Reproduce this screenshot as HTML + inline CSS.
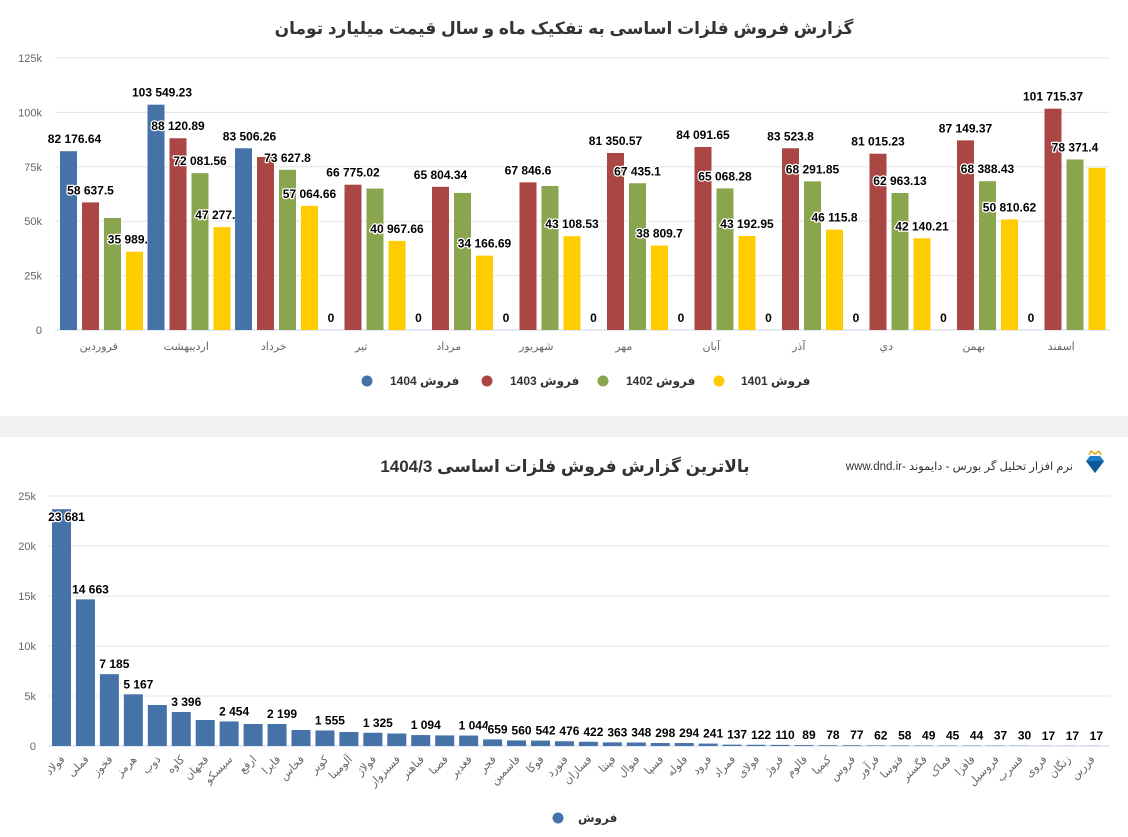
<!DOCTYPE html>
<html><head><meta charset="utf-8">
<style>
body{margin:0;width:1128px;height:837px;background:#f2f2f2;font-family:"Liberation Sans","DejaVu Sans",sans-serif;overflow:hidden}
svg{position:absolute;left:0;top:0}
text{font-family:"Liberation Sans","DejaVu Sans",sans-serif}
.lbl{font-weight:bold;font-size:12px;fill:#000;paint-order:stroke;stroke:#fff;stroke-width:2.5px;stroke-linejoin:round}
.ax{font-size:11px;fill:#666}
</style></head>
<body>
<svg id="s" width="1128" height="837" xmlns="http://www.w3.org/2000/svg">
<rect x="0" y="0" width="1128" height="416" fill="#fff"/>
<rect x="0" y="437" width="1128" height="400" fill="#fff"/>
<text x="564" y="34" text-anchor="middle" font-size="17" font-weight="bold" fill="#333" direction="rtl">گزارش فروش فلزات اساسی به تفکیک ماه و سال قیمت میلیارد تومان</text>
<text x="565" y="472" text-anchor="middle" font-size="17" font-weight="bold" fill="#333" direction="rtl">بالاترین گزارش فروش فلزات اساسی 1404/3</text>
<text x="1073" y="470" text-anchor="start" direction="rtl" font-size="11.5" fill="#333">نرم افزار تحلیل گر بورس - دایموند -www.dnd.ir</text>
<g>
<polygon points="1086,461 1090,456 1100,456 1104,461 1095,473" fill="#1e7fc8"/>
<polygon points="1086,461 1104,461 1095,473" fill="#0d5a9a"/>
<polyline points="1089,455 1091,451 1095,454 1099,451 1101,455" fill="none" stroke="#e0a820" stroke-width="1.5"/>
</g>
<g id="topG"></g>
<g id="botG"></g>
</svg>
<script>
const months=["فروردین","اردیبهشت","خرداد","تیر","مرداد","شهریور","مهر","آبان","آذر","دي","بهمن","اسفند"];
const seriesYears=["1404","1403","1402","1401"];
const s1404=[82176.64,103549.23,83506.26,0,0,0,0,0,0,0,0,0];
const s1403=[58637.5,88120.89,79500,66775.02,65804.34,67846.6,81350.57,84091.65,83523.8,81015.23,87149.37,101715.37];
const s1402=[51500,72081.56,73627.8,65000,63000,66200,67435.1,65068.28,68291.85,62963.13,68388.43,78371.4];
const s1401=[35989.05,47277.15,57064.66,40967.66,34166.69,43108.53,38809.7,43192.95,46115.8,42140.21,50810.62,74500];
const showLbl1402=[false,true,true,false,false,false,true,true,true,true,true,true];
const showLbl1401=[true,true,true,true,true,true,true,true,true,true,true,false];
const showLbl1403=[true,true,false,true,true,true,true,true,true,true,true,true];
const topTicks=[0,25000,50000,75000,100000,125000];
const topTickLabels=["0","25k","50k","75k","100k","125k"];

const symbols=["فولاد","فملی","فخوز","هرمز","ذوب","کاوه","فجهان","سیسکو","ارفع","فایرا","فخاس","کویر","آلومینا","فولاژ","فسبزوار","فباهنر","فصبا","فغدیر","فجر","فاسمین","فوکا","فنورد","فسازان","فپنتا","فنوال","فسپا","فلوله","فرود","فمراد","فولای","فروژ","فالوم","کیمیا","فروس","فرآور","فتوسا","فگستر","فماک","فافزا","فروسیل","فسرب","فروی","زنگان","فزرین"];
const sales=[23681,14663,7185,5167,4100,3396,2600,2454,2200,2199,1600,1555,1400,1325,1250,1094,1060,1044,659,560,542,476,422,363,348,298,294,241,137,122,110,89,78,77,62,58,49,45,44,37,30,17,17,17];
const salesLbl=[true,true,true,true,false,true,false,true,false,true,false,true,false,true,false,true,false,true,true,true,true,true,true,true,true,true,true,true,true,true,true,true,true,true,true,true,true,true,true,true,true,true,true,true];
const botTicks=[0,5000,10000,15000,20000,25000];
const botTickLabels=["0","5k","10k","15k","20k","25k"];

const NS="http://www.w3.org/2000/svg";
function mk(p,tag,attrs,txt){const e=document.createElementNS(NS,tag);for(const k in attrs)e.setAttribute(k,attrs[k]);if(txt!==undefined)e.textContent=txt;p.appendChild(e);return e;}
function fmt(v){const p=String(v).split(".");p[0]=p[0].replace(/\B(?=(\d{3})+(?!\d))/g," ");return p.join(".");}

// TOP CHART
const topG=document.getElementById("topG");
const tY=v=>330-v*(272/125000);
const tX0=55, catW=87.5, barW=17, pitch=22;
topTicks.forEach((t,i)=>{
 const g=mk(topG,"line",{x1:55,x2:1110,y1:tY(t),y2:tY(t),stroke:i==0?"#ccd6eb":"#e6e6e6","stroke-width":1});
 
 
 const l=mk(topG,"text",{x:42,y:tY(t)+4,"text-anchor":"end",class:"ax"},topTickLabels[i]);
 
 
});
const colors=["#4572A7","#AA4643","#89A54E","#FFCC00"];
const allS=[s1404,s1403,s1402,s1401];
const shows=[null,showLbl1403,showLbl1402,showLbl1401];
months.forEach((m,i)=>{
 const cx=tX0+i*catW;
 const ml=mk(topG,"text",{x:cx+catW/2,y:350,"text-anchor":"middle",class:"ax",direction:"rtl"},m);
 
 
 allS.forEach((s,k)=>{
  const v=s[i];const x=cx+5+k*pitch;
  if(v>0){
   const r=mk(topG,"rect",{x:x,y:tY(v),width:barW,height:330-tY(v),fill:colors[k]});
   
   
  }
  const show=k==0?true:shows[k][i];
  if(show){
   const t=mk(topG,"text",{x:x+barW/2+(k==0&&v>0?6:0),y:tY(v)-8,"text-anchor":"middle",class:"lbl"},fmt(v));
   
   
  }
 });
});
[[367,390],[487,510],[603,626],[719,741]].forEach((p,k)=>{
 const c=mk(topG,"circle",{cx:p[0],cy:381,r:5.5,fill:colors[k]});
 
 
 const t=mk(topG,"text",{x:p[1],y:385,"font-size":12,"font-weight":"bold",fill:"#333"},"فروش "+seriesYears[k]);
 
 
});

// BOTTOM CHART
const botG=document.getElementById("botG");
const bY=v=>746-v*(250/25000);
const bX0=52, bPitch=23.95, bW=19;
botTicks.forEach((t,i)=>{
 const g=mk(botG,"line",{x1:48,x2:1110,y1:bY(t),y2:bY(t),stroke:i==0?"#ccd6eb":"#e6e6e6","stroke-width":1});
 
 
 const l=mk(botG,"text",{x:36,y:bY(t)+4,"text-anchor":"end",class:"ax"},botTickLabels[i]);
 
 
});
symbols.forEach((sym,i)=>{
 const x=bX0+i*bPitch;const v=sales[i];
 const r=mk(botG,"rect",{x:x,y:bY(v),width:bW,height:746-bY(v),fill:"#4572A7"});
 
 
 if(salesLbl[i]){
  const ly=v>20000?bY(v)+12:bY(v)-6;
  const t=mk(botG,"text",{x:x+bW/2+5,y:ly,"text-anchor":"middle",class:"lbl"},fmt(v));
  
  
 }
 const cx=x+bW/2+4;
 const l=mk(botG,"text",{x:cx,y:760,"text-anchor":"end",class:"ax",transform:"rotate(-45 "+cx+" 760)"},sym);
 
 
});
const lc=mk(botG,"circle",{cx:558,cy:818,r:5.5,fill:"#4572A7"});


const lt=mk(botG,"text",{x:578,y:822,"font-size":12,"font-weight":"bold",fill:"#333"},"فروش");


</script>
</body></html>
